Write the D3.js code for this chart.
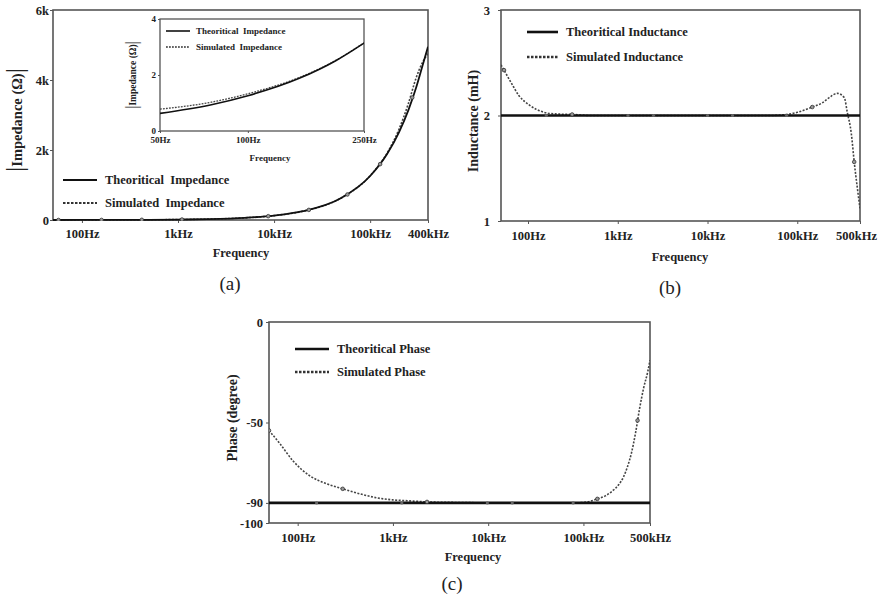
<!DOCTYPE html>
<html>
<head>
<meta charset="utf-8">
<title>Impedance, inductance and phase</title>
<script src="https://cdn.jsdelivr.net/npm/d3@7"></script>
<style>
  body { margin: 0; background: #fff; }
  text { font-family: "Liberation Serif", "Times New Roman", serif; }
</style>
</head>
<body>
<script>
// ---- data ----
// (a) impedance magnitude, ohm
var freqA = [50, 100, 200, 500, 1000, 2000, 5000, 10000, 20000, 50000, 100000, 150000, 200000, 250000, 300000, 350000, 400000];
var theoA = [0.6, 1.3, 2.5, 6.3, 12.6, 25, 63, 126, 251, 628, 1257, 1885, 2513, 3140, 3770, 4400, 4950];
var simA  = [0.8, 1.3, 2.5, 6.3, 12.6, 25, 63, 126, 251, 630, 1265, 1910, 2600, 3330, 4050, 4500, 4750];
var markFreqA = [57, 160, 420, 1100, 8700, 23000, 58000, 127000, 274000];
var markValA  = [0.7, 2, 5.3, 14, 109, 289, 729, 1596, 3500];
var ticksA = [100, 1000, 10000, 100000, 400000];
var tickLabelsA = ["100Hz", "1kHz", "10kHz", "100kHz", "400kHz"];
var yTicksA = [0, 2000, 4000, 6000];
var yLabelsA = ["0", "2k", "4k", "6k"];

// (a) inset, 50-250 Hz
var freqIn = [50, 75, 100, 150, 200, 250];
var theoIn = [0.63, 0.94, 1.26, 1.88, 2.51, 3.14];
var simIn  = [0.78, 1.03, 1.33, 1.91, 2.52, 3.15];
var ticksIn = [50, 100, 250];
var tickLabelsIn = ["50Hz", "100Hz", "250Hz"];
var yTicksIn = [0, 2, 4];

// (b) inductance, mH
var freqB = [50, 54, 65, 79, 103, 151, 200, 310, 500, 1000, 10000, 50000, 75000, 100000, 147000, 190000, 227000, 279000, 334000, 361000, 400000, 431000, 466000, 500000];
var simB  = [2.48, 2.43, 2.31, 2.19, 2.10, 2.03, 2.015, 2.01, 2.0, 2.0, 2.0, 2.0, 2.01, 2.03, 2.08, 2.12, 2.17, 2.21, 2.17, 2.03, 1.83, 1.56, 1.32, 1.12];
var theoFreqB = [50, 160, 1300, 2500, 10000, 19000, 76000, 500000];
var theoB = [2, 2, 2, 2, 2, 2, 2, 2];
var markFreqB = [54, 310, 147000, 431000];
var markValB  = [2.43, 2.01, 2.08, 1.56];
var ticksBC = [100, 1000, 10000, 100000, 500000];
var tickLabelsBC = ["100Hz", "1kHz", "10kHz", "100kHz", "500kHz"];
var yTicksB = [1, 2, 3];

// (c) phase, degree
var freqC = [50, 65, 89, 134, 202, 297, 450, 680, 1000, 1510, 2280, 5000, 20000, 80000, 110000, 140000, 170000, 202000, 234000, 264000, 290000, 320000, 353000, 389000, 428000, 472000, 500000];
var simC  = [-54, -60.5, -69, -76.5, -80.5, -83, -85.5, -87.5, -88.5, -89, -89.5, -89.8, -90, -90, -89.5, -88, -86.5, -84, -81, -77, -72, -65, -55, -43, -33, -25, -19];
var theoFreqC = [50, 158, 1240, 9800, 17900, 78000, 500000];
var theoC = [-90, -90, -90, -90, -90, -90, -90];
var markFreqC = [50, 297, 2280, 140000, 370000];
var markValC  = [-54, -83, -89.5, -88, -49];
var yTicksC = [-100, -90, -50, 0];

var svg = d3.select("body").append("svg")
    .attr("width", 880)
    .attr("height", 596);

var frameColor = "#555";

// one framed log-x plot
function drawPanel(p) {
    var x = d3.scaleLog().domain(p.xDomain).range([p.x0, p.x1]);
    var y = d3.scaleLinear().domain(p.yDomain).range([p.y1, p.y0]);
    var g = svg.append("g");

    g.append("rect")
        .attr("x", p.x0).attr("y", p.y0)
        .attr("width", p.x1 - p.x0).attr("height", p.y1 - p.y0)
        .attr("fill", "#fff");

    svg.append("clipPath").attr("id", "clip" + p.id)
        .append("rect")
        .attr("x", p.x0).attr("y", p.y0 - 1)
        .attr("width", p.x1 - p.x0).attr("height", p.y1 - p.y0 + 2);

    var xa = g.append("g")
        .attr("transform", "translate(0," + p.y1 + ")")
        .call(d3.axisBottom(x).tickValues(p.xTicks)
            .tickFormat(function(d, i) { return p.xLabels[i]; })
            .tickSizeInner(p.tick).tickSizeOuter(0).tickPadding(p.xPad));
    var ya = g.append("g")
        .attr("transform", "translate(" + p.x0 + ",0)")
        .call(d3.axisLeft(y).tickValues(p.yTicks)
            .tickFormat(function(d, i) { return p.yLabels[i]; })
            .tickSizeInner(p.tick).tickSizeOuter(0).tickPadding(p.yPad));
    [xa, ya].forEach(function(a) {
        a.select(".domain").remove();
        a.selectAll(".tick line").attr("stroke", frameColor);
        a.selectAll(".tick text")
            .attr("fill", "#222")
            .attr("font-size", p.tickFont)
            .attr("font-weight", "bold")
            .style("font-family", "'Liberation Serif', serif");
    });
    // last frequency label sits against the page edge in (b)
    if (p.lastDx) {
        xa.selectAll(".tick text").filter(function(d, i) { return i === p.xTicks.length - 1; })
            .attr("dx", p.lastDx);
    }

    g.append("rect")
        .attr("x", p.x0).attr("y", p.y0)
        .attr("width", p.x1 - p.x0).attr("height", p.y1 - p.y0)
        .attr("fill", "none")
        .attr("stroke", frameColor)
        .attr("stroke-width", p.frameW);

    var line = d3.line()
        .x(function(d) { return x(d[0]); })
        .y(function(d) { return y(d[1]); })
        .curve(d3.curveMonotoneX);

    var plot = g.append("g").attr("clip-path", "url(#clip" + p.id + ")");

    plot.append("path")
        .datum(d3.zip(p.simF, p.sim))
        .attr("d", line)
        .attr("fill", "none")
        .attr("stroke", "#444")
        .attr("stroke-width", p.simW)
        .attr("stroke-dasharray", p.dash);

    plot.append("path")
        .datum(d3.zip(p.theoF, p.theo))
        .attr("d", line)
        .attr("fill", "none")
        .attr("stroke", "#111")
        .attr("stroke-width", p.theoW);

    if (p.markF) {
        plot.selectAll("circle.m")
            .data(d3.zip(p.markF, p.markV))
            .enter().append("circle")
            .attr("class", "m")
            .attr("cx", function(d) { return x(d[0]); })
            .attr("cy", function(d) { return y(d[1]); })
            .attr("r", 1.8)
            .attr("fill", "#999")
            .attr("stroke", "#333")
            .attr("stroke-width", 0.8);
    }
    if (p.theoMarks) {
        plot.selectAll("circle.t")
            .data(d3.zip(p.theoF, p.theo).slice(1, -1))
            .enter().append("circle")
            .attr("class", "t")
            .attr("cx", function(d) { return x(d[0]); })
            .attr("cy", function(d) { return y(d[1]); })
            .attr("r", 1.6)
            .attr("fill", "#666");
    }

    // legend
    p.legend.forEach(function(l, i) {
        var ly = p.legY[i];
        g.append("line")
            .attr("x1", p.legX0).attr("x2", p.legX1)
            .attr("y1", ly).attr("y2", ly)
            .attr("stroke", i === 0 ? "#111" : "#333")
            .attr("stroke-width", i === 0 ? p.legW : p.legW * 0.9)
            .attr("stroke-dasharray", i === 0 ? null : p.legDash);
        g.append("text")
            .attr("x", p.legTx).attr("y", ly)
            .attr("dy", "0.35em")
            .attr("font-size", p.legFont)
            .attr("font-weight", "bold")
            .attr("fill", "#222")
            .style("white-space", "pre")
            .text(l);
    });

    // axis titles
    g.append("text")
        .attr("x", p.xtX).attr("y", p.xtY)
        .attr("dy", "0.35em")
        .attr("text-anchor", "middle")
        .attr("font-size", p.titleFont)
        .attr("font-weight", "bold")
        .attr("fill", "#222")
        .text("Frequency");

    var yt = g.append("text")
        .attr("transform", "translate(" + p.ytX + "," + p.ytY + ") rotate(-90)")
        .attr("dy", "0.35em")
        .attr("text-anchor", "middle")
        .attr("font-weight", "bold")
        .attr("fill", "#222")
        .attr("font-size", p.yTitleFont);
    if (p.bars) {
        yt.append("tspan").attr("font-size", p.barFont).attr("font-weight", "normal")
            .attr("dy", "0.3em").text("|");
        yt.append("tspan").attr("dy", "-0.05em").text(p.yTitle);
        yt.append("tspan").attr("font-size", p.barFont).attr("font-weight", "normal")
            .attr("dy", "0.05em").text("|");
    } else {
        yt.text(p.yTitle);
    }

    if (p.tag) {
        svg.append("text")
            .attr("x", p.tagX).attr("y", p.tagY)
            .attr("dy", "0.35em")
            .attr("text-anchor", "middle")
            .attr("font-size", 19)
            .attr("fill", "#222")
            .text(p.tag);
    }
}

// (a) main
drawPanel({
    id: "a", x0: 53, x1: 428, y0: 10, y1: 220,
    xDomain: [50, 400000], yDomain: [0, 6000],
    xTicks: ticksA, xLabels: tickLabelsA, yTicks: yTicksA, yLabels: yLabelsA,
    tick: 3, xPad: 6, yPad: 1, tickFont: 12.5, frameW: 1.6,
    simF: freqA, sim: simA, theoF: freqA, theo: theoA,
    markF: markFreqA, markV: markValA,
    simW: 1.6, theoW: 1.8, dash: "2,1.5",
    legend: ["Theoritical  Impedance", "Simulated  Impedance"],
    legY: [180, 203], legX0: 63, legX1: 97, legTx: 105, legFont: 12.5, legW: 2, legDash: "2.5,1.5",
    xtX: 241, xtY: 253, titleFont: 12.5,
    ytX: 15, ytY: 120, yTitle: "Impedance (Ω)", yTitleFont: 14.5, bars: true, barFont: 26,
    tag: "(a)", tagX: 230, tagY: 283
});

// (a) inset
drawPanel({
    id: "in", x0: 160, x1: 364, y0: 19, y1: 131,
    xDomain: [50, 250], yDomain: [0, 4],
    xTicks: ticksIn, xLabels: tickLabelsIn, yTicks: yTicksIn, yLabels: ["0", "2", "4"],
    tick: 2, xPad: 4, yPad: 2, tickFont: 9, frameW: 1.3,
    simF: freqIn, sim: simIn, theoF: freqIn, theo: theoIn,
    simW: 1.3, theoW: 1.6, dash: "1.8,1.2",
    legend: ["Theoritical  Impedance", "Simulated  Impedance"],
    legY: [31, 47], legX0: 166, legX1: 190, legTx: 196, legFont: 9, legW: 1.6, legDash: "1.8,1.2",
    xtX: 270, xtY: 158, titleFont: 9,
    ytX: 132, ytY: 75, yTitle: "Impedance (Ω)", yTitleFont: 9.5, bars: true, barFont: 16
});

// (b)
drawPanel({
    id: "b", x0: 501, x1: 860, y0: 10, y1: 221,
    xDomain: [50, 500000], yDomain: [1, 3],
    xTicks: ticksBC, xLabels: tickLabelsBC, yTicks: yTicksB, yLabels: ["1", "2", "3"],
    tick: 3, xPad: 7, yPad: 8, tickFont: 12.5, frameW: 1.6, lastDx: -4,
    simF: freqB, sim: simB, theoF: theoFreqB, theo: theoB,
    markF: markFreqB, markV: markValB, theoMarks: true,
    simW: 1.6, theoW: 2.6, dash: "2,1.5",
    legend: ["Theoritical Inductance", "Simulated Inductance"],
    legY: [32, 57], legX0: 527, legX1: 558, legTx: 566, legFont: 12.5, legW: 2.6, legDash: "2.5,1.5",
    xtX: 680, xtY: 257, titleFont: 12.5,
    ytX: 473, ytY: 121, yTitle: "Inductance (mH)", yTitleFont: 14,
    tag: "(b)", tagX: 670, tagY: 287
});

// (c)
drawPanel({
    id: "c", x0: 269, x1: 650, y0: 322, y1: 523,
    xDomain: [50, 500000], yDomain: [-100, 0],
    xTicks: ticksBC, xLabels: tickLabelsBC, yTicks: yTicksC, yLabels: ["-100", "-90", "-50", "0"],
    tick: 3, xPad: 7, yPad: 3, tickFont: 12.5, frameW: 1.6,
    simF: freqC, sim: simC, theoF: theoFreqC, theo: theoC,
    markF: markFreqC, markV: markValC, theoMarks: true,
    simW: 1.6, theoW: 2.6, dash: "2,1.5",
    legend: ["Theoritical Phase", "Simulated Phase"],
    legY: [349, 372], legX0: 295, legX1: 329, legTx: 337, legFont: 12.5, legW: 2.6, legDash: "2.5,1.5",
    xtX: 473, xtY: 557, titleFont: 12.5,
    ytX: 232, ytY: 418, yTitle: "Phase (degree)", yTitleFont: 14,
    tag: "(c)", tagX: 452, tagY: 583
});
</script>
</body>
</html>
